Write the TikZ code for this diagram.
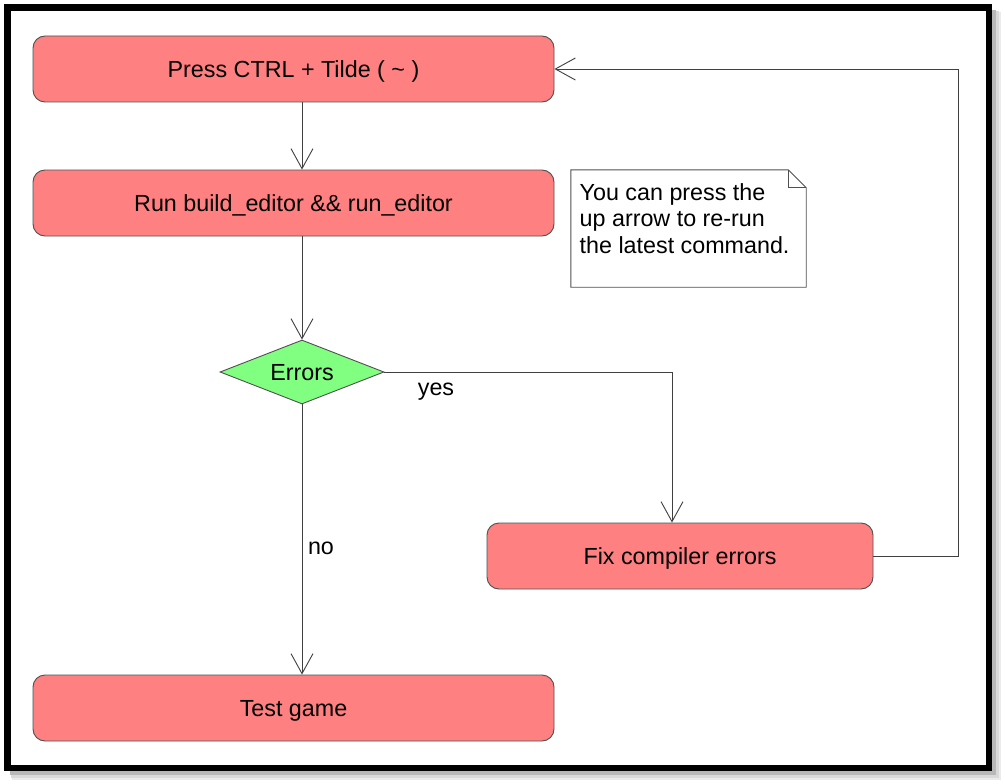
\documentclass[tikz,border=0pt]{standalone}
\usepackage{fontspec}
\setmainfont{Liberation Sans}
\usetikzlibrary{arrows.meta,shapes.geometric}
\definecolor{boxred}{HTML}{FF8080}
\definecolor{boxgreen}{HTML}{80FF80}
\definecolor{edge}{HTML}{505050}
\definecolor{wire}{HTML}{404040}
\tikzset{
  txt/.style={font=\fontsize{23.3}{26.8}\selectfont},
  stepbox/.style={txt, rectangle, rounded corners=12pt, draw=edge, line width=0.9pt, fill=boxred,
    minimum height=66pt, inner sep=0pt, text height=19pt, text depth=2pt},
  decide/.style={txt, diamond, draw=edge, line width=0.9pt, fill=boxgreen, minimum width=164pt,
    minimum height=64pt, inner sep=0pt, shape aspect=2.56, text height=18pt, text depth=2pt},
  arr/.style={draw=wire, line width=0.9pt, -{Straight Barb[length=20pt,width=22pt,line width=0.9pt]}},
  lbl/.style={txt, inner sep=0pt},
}
\begin{document}
\begin{tikzpicture}[x=1pt,y=-1pt]
\useasboundingbox (0,0) rectangle (1005,784);
% frame shadow
\fill[black!8] (12,12) rectangle (1001,780);
\fill[black!15] (11,11) rectangle (999,778);
\fill[black!28] (10,10) rectangle (996,775);
\fill[white, draw=black, line width=6.5pt] (7.5,7.5) rectangle (989,768);

\node[stepbox, minimum width=521pt] (press) at (293.5,69) {Press CTRL + Tilde ( \textasciitilde\ )};
\node[stepbox, minimum width=521pt] (run) at (293.5,203) {Run build\_editor \&\& run\_editor};
\node[decide] (err) at (302,372) {Errors};
\node[stepbox, minimum width=386pt] (fix) at (680,556) {Fix compiler errors};
\node[stepbox, minimum width=521pt] (test) at (293.5,708) {Test game};

% note
\node[rectangle, minimum width=235pt, minimum height=117pt, inner sep=0pt] (note) at (688.5,228.5) {};
\draw[draw=edge, line width=0.9pt, fill=white]
  (note.north west) -- ([xshift=-18pt]note.north east) -- ([yshift=-18pt]note.north east)
  -- (note.south east) -- (note.south west) -- cycle;
\draw[draw=edge, line width=0.9pt]
  ([xshift=-18pt]note.north east) -- ([xshift=-18pt,yshift=-18pt]note.north east) -- ([yshift=-18pt]note.north east);
\node[lbl, align=left, anchor=north west] (notetext) at (579.5,183)
  {You can press the\\up arrow to re-run\\the latest command.};

% connectors
\draw[arr] (press.south -| err) -- (run.north -| err);
\draw[arr] (run.south -| err) -- (err.north);
\draw[arr] (err.south) -- (test.north -| err);
\draw[arr] (err.east) -| ([xshift=-8pt]fix.north);
\draw[arr] (fix.east) -- ++(85,0) |- (press.east);

\node[lbl, anchor=base] (yes) at (436,395.7) {yes};
\node[lbl, anchor=base] (no) at (321,554.3) {no};
\end{tikzpicture}
\end{document}
